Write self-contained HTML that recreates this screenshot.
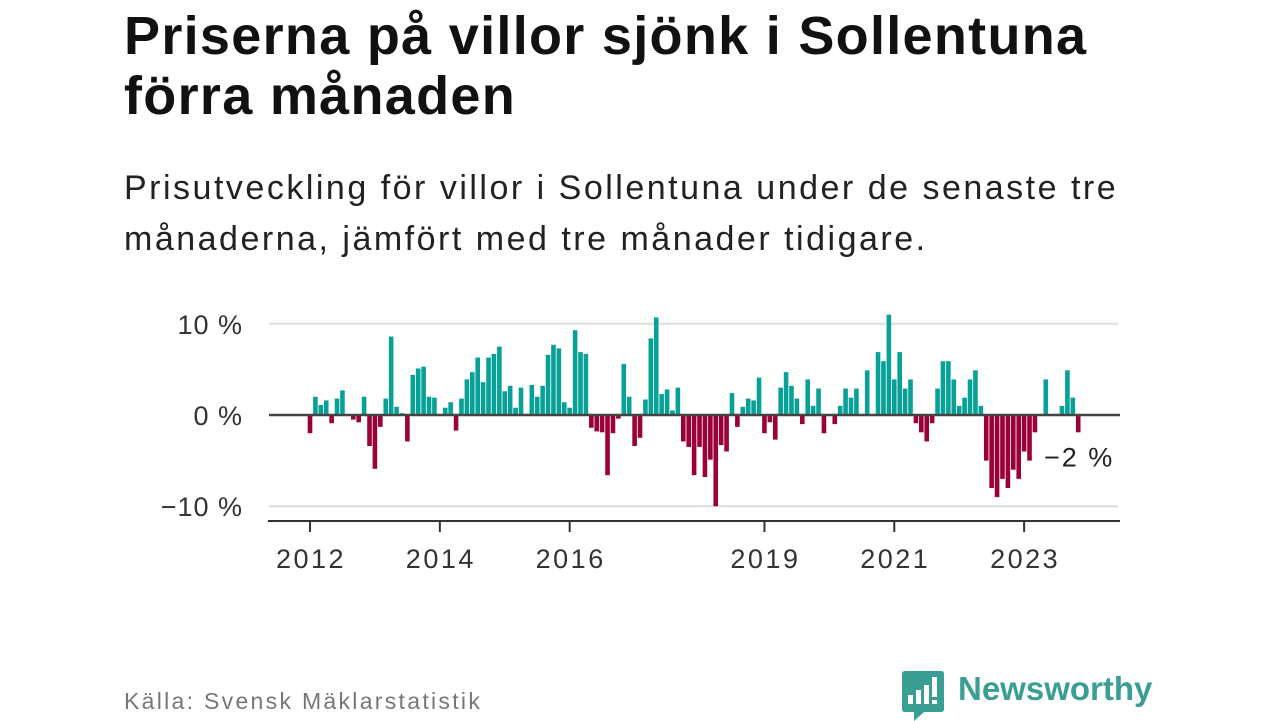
<!DOCTYPE html>
<html><head><meta charset="utf-8">
<style>
body{margin:0;background:#fff;width:1280px;height:720px;overflow:hidden;font-family:"Liberation Sans",sans-serif;position:relative}
.t{position:absolute;left:124px;top:6px;font-size:54px;font-weight:bold;line-height:60px;color:#111;letter-spacing:1.3px;white-space:nowrap}
.s{position:absolute;left:124px;top:163px;font-size:34px;line-height:51px;color:#222;letter-spacing:2.5px;white-space:nowrap}
.src{position:absolute;left:124px;top:688px;font-size:23px;color:#777;letter-spacing:2.3px}
.logo{position:absolute;left:958px;top:670px;font-size:33px;font-weight:bold;color:#3a9e93}
</style></head><body>
<div class="t">Priserna på villor sjönk i Sollentuna<br>förra månaden</div>
<div class="s">Prisutveckling för villor i Sollentuna under de senaste tre<br>månaderna, jämfört med tre månader tidigare.</div>
<svg id="chart" width="1280" height="720" style="position:absolute;left:0;top:0"></svg>
<div class="src">Källa: Svensk Mäklarstatistik</div>
<svg width="42" height="50" style="position:absolute;left:902px;top:671px" viewBox="0 0 42 50">
<path d="M3 0H39Q42 0 42 3V38Q42 41 39 41H22L12 50L12 41H3Q0 41 0 38V3Q0 0 3 0Z" fill="#3a9e93"/>
<rect x="6" y="24" width="5" height="9" fill="#fff"/><rect x="14" y="19" width="5" height="14" fill="#fff"/><rect x="22" y="14" width="5" height="19" fill="#fff"/><rect x="30" y="6" width="5" height="20" fill="#fff"/><rect x="30" y="29" width="5" height="4" fill="#fff"/>
</svg>
<div class="logo">Newsworthy</div>
<script>
const values = [-2.0,2.0,1.1,1.6,-0.9,1.8,2.7,0,-0.5,-0.8,2.0,-3.4,-5.9,-1.3,1.8,8.6,0.9,0.2,-2.9,4.4,5.1,5.3,2.0,1.9,0,0.8,1.4,-1.7,1.8,3.9,4.7,6.3,3.6,6.3,6.7,7.5,
2.6,3.2,0.8,3.0,0,3.3,2.0,3.2,6.6,7.7,7.3,1.4,0.8,9.3,6.9,6.7,-1.4,-1.8,-1.9,-6.6,-2.0,-0.4,5.6,2.0,-3.4,-2.5,1.7,8.4,10.7,2.3,2.8,0.5,3.0,-2.9,-3.5,-6.6,-3.5,-6.8,-4.9,
-10,-3.3,-4.0,2.4,-1.3,0.9,1.8,1.6,4.1,-2.0,-0.8,-2.7,3.0,4.7,3.2,1.8,-1.0,3.9,1.0,2.9,-2.0,0,-1.0,1.0,2.9,1.9,2.9,0,4.9,0,6.9,5.9,11.0,3.9,6.9,2.9,3.9,
-0.9,-1.9,-2.9,-0.9,2.9,5.9,5.9,3.9,1.0,1.9,3.9,4.9,1.0,-5,-8,-9,-7,-8,-6,-7,-4,-5,-1.9,0,3.9,0,0,1.0,4.9,1.9,-1.9];
const startYear = 2012;
const xTickYears = [2012,2014,2016,2019,2021,2023];
const yTicks = [10,0,-10];
const yTickLabels = ["10 %","0 %","\u221210 %"];
const lastLabel = "\u22122 %";

const svg = document.getElementById('chart');
const NS = 'http://www.w3.org/2000/svg';
const x0 = 310, step = 5.41;
const x = i => x0 + i*step;
const xYear = yr => x((yr-startYear)*12);
const y = v => 415 - v*9.12;
function mk(tag, attrs){const e=document.createElementNS(NS,tag);for(const k in attrs)e.setAttribute(k,attrs[k]);svg.appendChild(e);return e;}
yTicks.forEach((t,j)=>{
  if(t!==0){const g=mk('line',{x1:269,x2:1118,y1:y(t),y2:y(t),stroke:'#ddd','stroke-width':2});
  
  }
  const l=mk('text',{x:243,y:y(t)+10,'text-anchor':'end','font-size':27,'letter-spacing':1,fill:'#333','font-family':'Liberation Sans, sans-serif'});
  l.textContent=yTickLabels[j];
  
  
});
values.forEach((v,i)=>{
  if(v===0)return;
  const b=mk('rect',{x:x(i)-2.3,width:4.6,y:Math.min(y(v),y(0)),height:Math.abs(y(v)-y(0)),fill:v>0?'#07a197':'#9c0039'});
  
  
});
const z=mk('line',{x1:269,x2:1120,y1:y(0),y2:y(0),stroke:'#444','stroke-width':2.5});


const ax=mk('line',{x1:268,x2:1120,y1:521,y2:521,stroke:'#333','stroke-width':2});


xTickYears.forEach(yr=>{
  const t=mk('line',{x1:xYear(yr),x2:xYear(yr),y1:521,y2:532,stroke:'#333','stroke-width':2});
  
  
  const l=mk('text',{x:xYear(yr)+1,y:568,'text-anchor':'middle','font-size':27,'letter-spacing':2.5,fill:'#333','font-family':'Liberation Sans, sans-serif'});
  l.textContent=yr;
  
  
});
const ll=mk('text',{x:1044,y:y(values[values.length-1])+34,'font-size':27,'letter-spacing':2,fill:'#222','font-family':'Liberation Sans, sans-serif'});
ll.textContent=lastLabel;


</script>
</body></html>
